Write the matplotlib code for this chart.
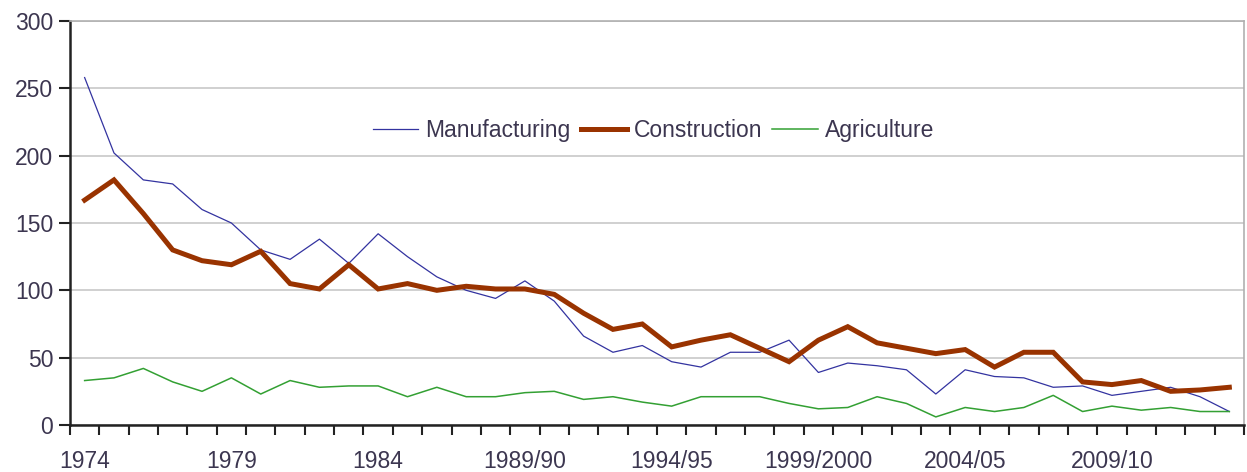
import matplotlib.pyplot as plt
import numpy as np

plt.rcParams['font.family'] = ['Liberation Sans', 'DejaVu Sans']

# 年份类别 (1974 - 2013/14)
years = [str(y) for y in range(1974, 1989)] + \
        ['%d/%02d' % (y, (y + 1) % 100) for y in range(1989, 2014)]
years[years.index('1999/00')] = '1999/2000'
tick_labels = ['1974', '1979', '1984', '1989/90', '1994/95', '1999/2000', '2004/05', '2009/10']

manufacturing = [258, 202, 182, 179, 160, 150, 130, 123, 138, 120,
                 142, 125, 110, 100, 94, 107, 92, 66, 54, 59,
                 47, 43, 54, 54, 63, 39, 46, 44, 41, 23,
                 41, 36, 35, 28, 29, 22, 25, 28, 21, 10]
construction = [167, 182, 157, 130, 122, 119, 129, 105, 101, 119,
                101, 105, 100, 103, 101, 101, 97, 83, 71, 75,
                58, 63, 67, 57, 47, 63, 73, 61, 57, 53,
                56, 43, 54, 54, 32, 30, 33, 25, 26, 28]
agriculture = [33, 35, 42, 32, 25, 35, 23, 33, 28, 29,
               29, 21, 28, 21, 21, 24, 25, 19, 21, 17,
               14, 21, 21, 21, 16, 12, 13, 21, 16, 6,
               13, 10, 13, 22, 10, 14, 11, 13, 10, 10]

x = np.arange(len(years))

fig = plt.figure(figsize=(12.47, 4.72), dpi=100)
ax = fig.add_axes([0.0561, 0.0996, 0.9415, 0.8559])

ax.plot(x, manufacturing, color='#3333a0', linewidth=0.9, label='Manufacturing')
ax.plot(x, construction, color='#993300', linewidth=3.6, label='Construction',
        solid_joinstyle='miter')
ax.plot(x, agriculture, color='#33a033', linewidth=1.1, label='Agriculture')

ax.set_xlim(-0.5, len(years) - 0.5)
ax.set_ylim(0, 300)
ax.set_yticks(range(0, 301, 50))
ax.yaxis.grid(True, color='#c8c8c8', linewidth=1.2)
ax.set_axisbelow(True)

# x 轴: 标签在类别中心, 刻度线在类别边界
pos = [years.index(t) for t in tick_labels]
ax.set_xticks(pos)
ax.set_xticklabels(tick_labels)
ax.set_xticks(np.arange(-0.5, len(years)), minor=True)
ax.tick_params(axis='x', which='major', length=0, pad=18)
ax.tick_params(axis='x', which='minor', length=7, width=1.5, color='#222222')
ax.tick_params(axis='y', length=8, width=1.5, color='#222222', pad=4)
ax.tick_params(labelsize=16.5, labelcolor='#3c3650')

for s in ['left', 'bottom']:
    ax.spines[s].set_color('#222222')
    ax.spines[s].set_linewidth(1.8)
for s in ['top', 'right']:
    ax.spines[s].set_color('#b0b0b0')
    ax.spines[s].set_linewidth(1.2)

ax.legend(loc='center', bbox_to_anchor=(0.497, 0.73), ncol=3, frameon=False,
          fontsize=16.5, handlelength=2.0, handletextpad=0.3, columnspacing=0.45,
          labelcolor='#3c3650')

plt.savefig('out.png', dpi=100)
